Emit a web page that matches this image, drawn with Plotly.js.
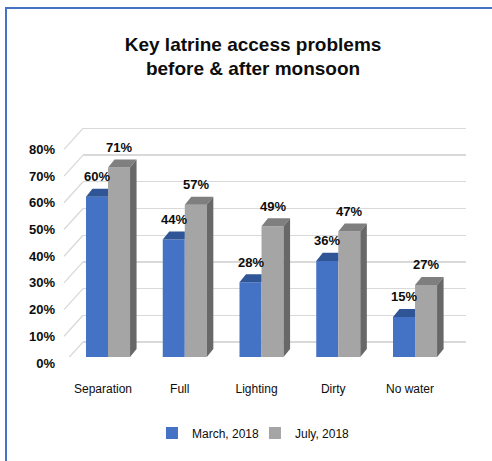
<!DOCTYPE html>
<html>
<head>
<meta charset="utf-8">
<script src="https://cdn.plot.ly/plotly-3.0.1.min.js"></script>
<style>
  html, body { margin: 0; padding: 0; background: #fff; }
  #chart { width: 492px; height: 461px; }
  #frame { position: absolute; left: 5px; top: 7px; width: 500px; height: 470px;
           border-left: 2px solid #4472c4; border-top: 2px solid #4472c4; pointer-events: none; }
</style>
</head>
<body>
<div id="chart"></div>
<div id="frame"></div>
<script>
// ---- data ----
const categories = ['Separation', 'Full', 'Lighting', 'Dirty', 'No water'];
const march2018 = [0.60, 0.44, 0.28, 0.36, 0.15];
const july2018 = [0.71, 0.57, 0.49, 0.47, 0.27];
const seriesNames = ['March, 2018', 'July, 2018'];
const yTickVals = [0, 0.1, 0.2, 0.3, 0.4, 0.5, 0.6, 0.7, 0.8];
const yTickText = ['0%', '10%', '20%', '30%', '40%', '50%', '60%', '70%', '80%'];
const gridTickVals = [0.1, 0.2, 0.3, 0.4, 0.5, 0.6, 0.7, 0.8, 0.9];

// ---- styling ----
const FONT = '"Liberation Sans", Arial, sans-serif';
const TXT = '#0d0d0d';
const BLUE = '#4472c4', BLUE_TOP = '#2f5597';
const GRAY = '#a5a5a5', GRAY_TOP = '#7f7f7f', GRAY_SIDE = '#686868';
const BW = 0.287;      // bar width in category units
const DX = 0.085;      // depth offset (x units)
const DY = 0.030;      // depth offset (value units)

const xs = categories.map((c, i) => i);

const traces = [
  { type: 'bar', name: seriesNames[0], x: xs, y: march2018, yaxis: 'y2',
    marker: { color: BLUE, line: { width: 0 } }, hoverinfo: 'skip' },
  { type: 'bar', name: seriesNames[1], x: xs, y: july2018, yaxis: 'y2',
    marker: { color: GRAY, line: { width: 0 } }, hoverinfo: 'skip' }
];

// 3D faces derived from the data
function poly(list) {
  const px = [], py = [];
  list.forEach(p => { p.forEach(q => { px.push(q[0]); py.push(q[1]); }); px.push(null); py.push(null); });
  return { px, py };
}
const blueTop = poly(xs.map((i, k) => {
  const x0 = i - BW, x1 = i, v = march2018[k];
  return [[x0, v], [x1, v], [x1, v + DY], [x0 + DX, v + DY]];
}));
const grayTop = poly(xs.map((i, k) => {
  const x0 = i, x1 = i + BW, v = july2018[k];
  return [[x0, v], [x1, v], [x1 + DX, v + DY], [x0 + DX, v + DY]];
}));
const graySide = poly(xs.map((i, k) => {
  const x1 = i + BW, v = july2018[k];
  return [[x1, 0], [x1 + DX, DY], [x1 + DX, v + DY], [x1, v]];
}));
[[blueTop, BLUE_TOP], [grayTop, GRAY_TOP], [graySide, GRAY_SIDE]].forEach(([p, c]) => {
  traces.push({ type: 'scatter', x: p.px, y: p.py, yaxis: 'y2', mode: 'lines', fill: 'toself',
    fillcolor: c, line: { width: 0, color: c }, showlegend: false, hoverinfo: 'skip' });
});

// value labels
const annotations = [];
[[march2018, -BW / 2], [july2018, BW / 2]].forEach(([vals, off]) => {
  vals.forEach((v, k) => {
    annotations.push({ x: xs[k] + off, y: v, xref: 'x', yref: 'y2', showarrow: false,
      text: '<b>' + Math.round(v * 100) + '%</b>', yanchor: 'middle', yshift: 20,
      font: { family: FONT, size: 13, color: TXT } });
  });
});

// left wall diagonals
const shapes = gridTickVals.map(t => ({
  type: 'line', xref: 'paper', yref: 'y', x0: -0.0496, x1: 0, y0: t - 0.0787, y1: t,
  line: { color: '#d9d9d9', width: 1.3 }
}));

const layout = {
  width: 492, height: 461,
  margin: { l: 83, r: 26, t: 127, b: 104 },
  paper_bgcolor: '#ffffff', plot_bgcolor: 'rgba(0,0,0,0)',
  font: { family: FONT, color: TXT },
  title: { text: '<b>Key latrine access problems<br>before & after monsoon</b>',
    font: { family: FONT, size: 19, color: TXT },
    xref: 'paper', x: 0.444, xanchor: 'center', yref: 'container', y: 0.89, yanchor: 'middle' },
  barmode: 'group', bargap: 0.426, bargroupgap: 0,
  showlegend: true,
  legend: { orientation: 'h', xref: 'paper', x: 0.449, xanchor: 'center', y: -0.33, yanchor: 'middle',
    font: { family: FONT, size: 12, color: TXT }, itemwidth: 30, traceorder: 'normal',
    entrywidth: 58, entrywidthmode: 'pixels' },
  xaxis: { range: [-0.326, 4.664], tickvals: xs, ticktext: categories, showgrid: false,
    zeroline: false, showline: false, ticks: '', ticklabelshift: -5, ticklabelstandoff: 23,
    tickfont: { family: FONT, size: 12, color: TXT }, fixedrange: true },
  yaxis: { range: [0.0438, 0.9052], tickvals: gridTickVals, showticklabels: false,
    showgrid: true, gridcolor: '#d9d9d9', gridwidth: 1.3, zeroline: false, showline: false, ticks: '' },
  yaxis2: { overlaying: 'y', side: 'left', range: [0, 0.8614], tickvals: yTickVals, ticktext: yTickText,
    showgrid: false, zeroline: false, showline: false, ticks: '', ticklabelshift: 6, ticklabelstandoff: 27,
    tickfont: { family: FONT, size: 13, color: TXT, weight: 'bold' } },
  shapes: shapes,
  annotations: annotations
};

Plotly.newPlot('chart', traces, layout, { staticPlot: true, displayModeBar: false });
</script>
</body>
</html>
